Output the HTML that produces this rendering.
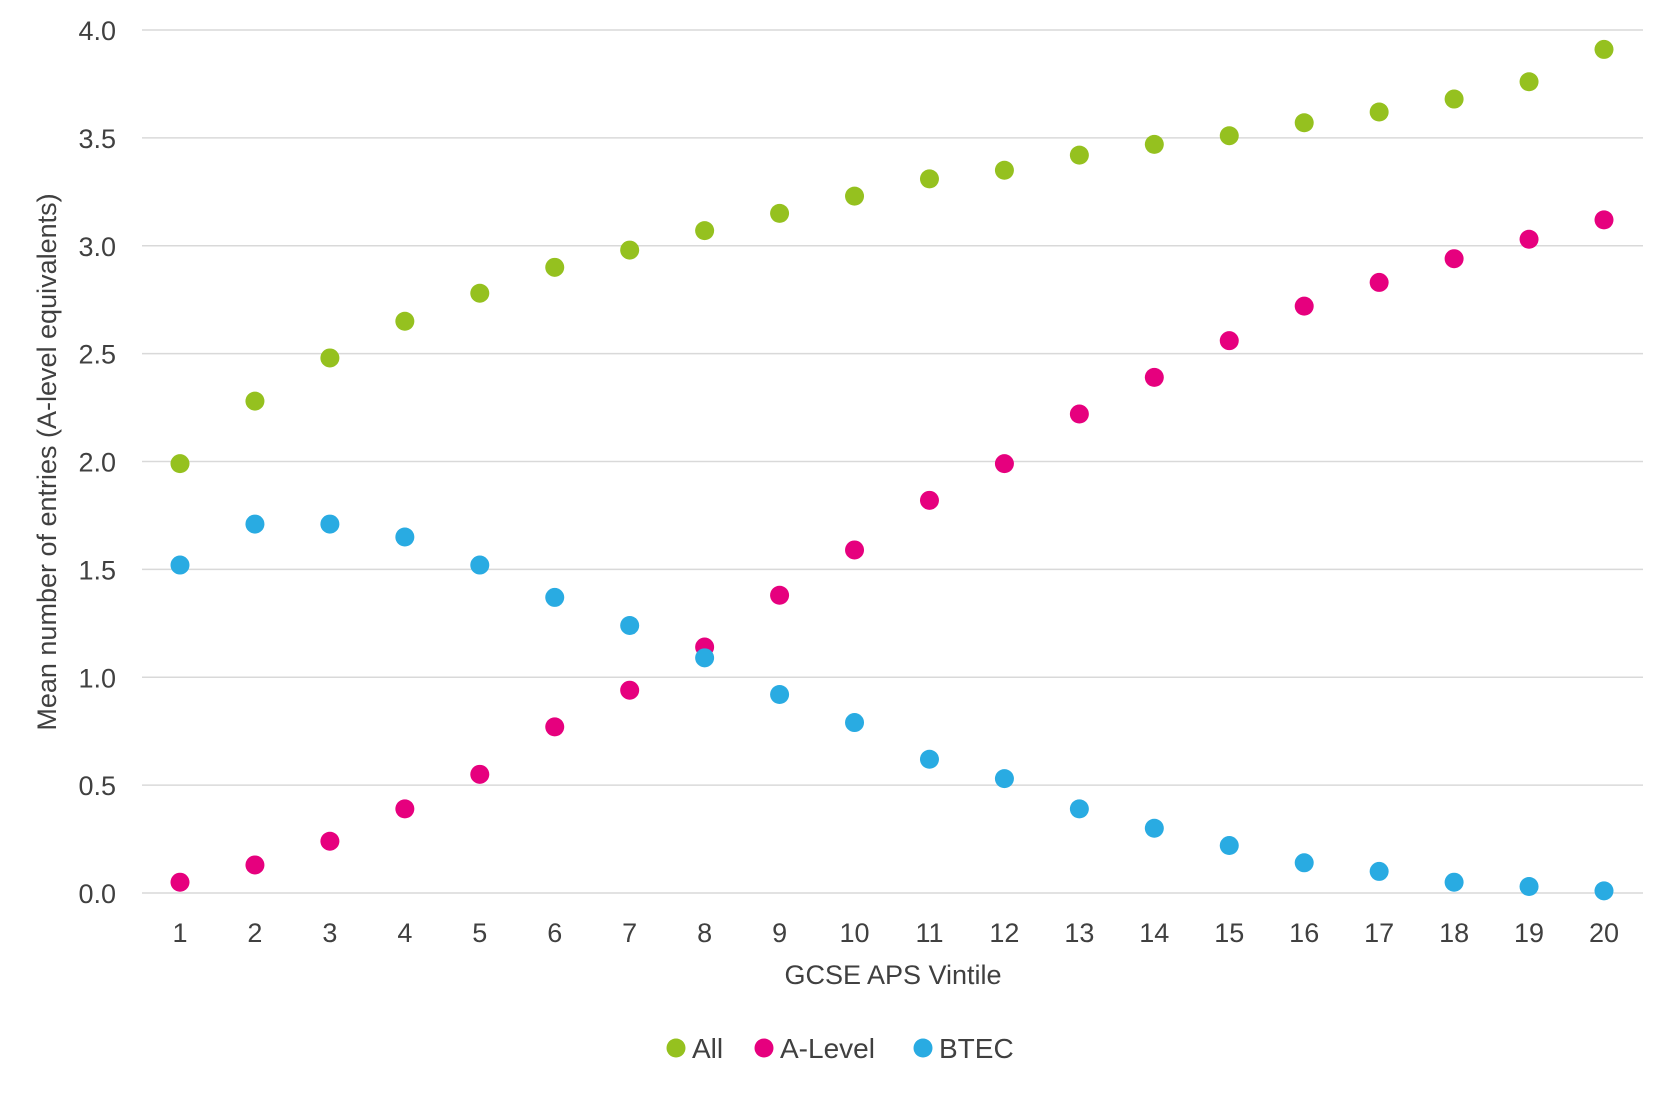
<!DOCTYPE html>
<html><head><meta charset="utf-8"><style>
html,body{margin:0;padding:0;background:#fff;}
svg text{font-family:"Liberation Sans",sans-serif;fill:#404040;}
</style></head><body>
<svg id="chart" width="1667" height="1089" xmlns="http://www.w3.org/2000/svg">
<g id="grid"></g>
<g id="yticks"></g>
<g id="xticks"></g>
<g id="marks"></g>
<text x="0" y="0" transform="translate(56,462) rotate(-90)" text-anchor="middle" font-size="27">Mean number of entries (A-level equivalents)</text>
<text x="893" y="984" text-anchor="middle" font-size="27">GCSE APS Vintile</text>
<g>
<g><circle cx="676" cy="1048" r="9.5" fill="#95c11f"/><text x="692" y="1058" font-size="28">All</text></g>
<g><circle cx="764" cy="1048" r="9.5" fill="#e6007e"/><text x="780" y="1058" font-size="28">A-Level</text></g>
<g><circle cx="923" cy="1048" r="9.5" fill="#29abe2"/><text x="939" y="1058" font-size="28">BTEC</text></g>
</g>
</svg>
<script>
const categories=[1,2,3,4,5,6,7,8,9,10,11,12,13,14,15,16,17,18,19,20];
const allValues=[1.99,2.28,2.48,2.65,2.78,2.90,2.98,3.07,3.15,3.23,3.31,3.35,3.42,3.47,3.51,3.57,3.62,3.68,3.76,3.91];
const aLevelValues=[0.05,0.13,0.24,0.39,0.55,0.77,0.94,1.14,1.38,1.59,1.82,1.99,2.22,2.39,2.56,2.72,2.83,2.94,3.03,3.12];
const btecValues=[1.52,1.71,1.71,1.65,1.52,1.37,1.24,1.09,0.92,0.79,0.62,0.53,0.39,0.30,0.22,0.14,0.10,0.05,0.03,0.01];
const yTicks=[0,0.5,1,1.5,2,2.5,3,3.5,4];
const yTickLabels=["0.0","0.5","1.0","1.5","2.0","2.5","3.0","3.5","4.0"];

const NS="http://www.w3.org/2000/svg";
const y0=893,y4=30,x1=180,x20=1604,left=142,right=1643;
function yScale(v){return y0-(v/4)*(y0-y4);}
function xScale(i){return x1+i*(x20-x1)/(categories.length-1);}
function mk(tag,attrs,parent){const e=document.createElementNS(NS,tag);for(const k in attrs)e.setAttribute(k,attrs[k]);parent.appendChild(e);return e;}
const grid=document.getElementById('grid'),yt=document.getElementById('yticks'),xt=document.getElementById('xticks'),marks=document.getElementById('marks');
yTicks.forEach((v,i)=>{
  const l=mk('line',{x1:left,x2:right,y1:yScale(v),y2:yScale(v),stroke:'#d9d9d9','stroke-width':1.5},grid);
  
  
  const t=mk('text',{x:116,y:yScale(v)+10,'text-anchor':'end','font-size':27},yt);
  t.textContent=yTickLabels[i];
  
  
});
categories.forEach((c,i)=>{
  const t=mk('text',{x:xScale(i),y:942,'text-anchor':'middle','font-size':27},xt);
  t.textContent=c;
  
  
});
const series=[[allValues,'#95c11f','point-all'],[aLevelValues,'#e6007e','point-a-level'],[btecValues,'#29abe2','point-btec']];
series.forEach(([vals,col,name])=>{
  vals.forEach((v,i)=>{
    const c=mk('circle',{cx:xScale(i),cy:yScale(v),r:9.5,fill:col},marks);
    
    
  });
});
</script>
</body></html>
